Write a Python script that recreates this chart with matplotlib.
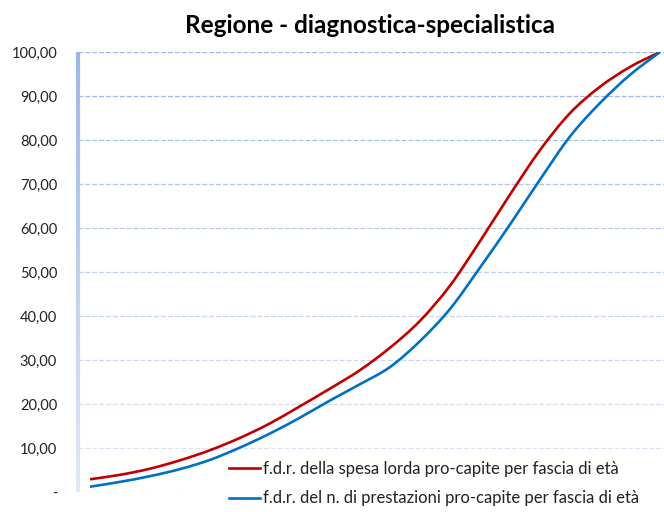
import numpy as np
import matplotlib
matplotlib.use("Agg")
import matplotlib.pyplot as plt
from matplotlib.collections import LineCollection
from matplotlib.colors import to_rgb
from matplotlib.path import Path
from matplotlib.patches import PathPatch
from matplotlib.lines import Line2D

# ---- data ----
age_bands = ["0-4", "5-9", "10-14", "15-19", "20-24", "25-29", "30-34", "35-39",
             "40-44", "45-49", "50-54", "55-59", "60-64", "65-69", "70-74",
             "75-79", "80-84", "85-89", "90-94", "95+"]
spesa = [2.9, 3.9, 5.3, 7.2, 9.5, 12.3, 15.6, 19.5, 23.5, 27.7,
         32.8, 38.9, 46.9, 57.0, 67.6, 77.7, 86.1, 92.1, 96.6, 100.0]
prestazioni = [1.2, 2.3, 3.6, 5.2, 7.3, 10.1, 13.3, 16.9, 20.8, 24.5,
               28.4, 34.3, 41.6, 51.0, 60.8, 71.0, 80.8, 88.4, 94.8, 100.0]
yticks = [0, 10, 20, 30, 40, 50, 60, 70, 80, 90, 100]
ytick_labels = ["-", "10,00", "20,00", "30,00", "40,00", "50,00", "60,00",
                "70,00", "80,00", "90,00", "100,00"]
label_spesa = "f.d.r. della spesa lorda pro-capite per fascia di età"
label_prest = "f.d.r. del n. di prestazioni pro-capite per fascia di età"
title = "Regione - diagnostica-specialistica"

plt.rcParams['font.family'] = ['Lato', 'DejaVu Sans']

W, H = 664, 512
fig = plt.figure(figsize=(W / 100, H / 100), dpi=100)
ax = fig.add_axes([78 / W, 20 / H, (W - 78) / W, 440 / H])

x = np.arange(len(age_bands))
ax.set_xlim(-0.4, len(age_bands) - 1 + 4 / 30)
ax.set_ylim(0, 100)

top_c = np.array(to_rgb("#9db6e4"))
bot_c = np.array(to_rgb("#e2e8f5"))

def grad(v):
    t = v / 100.0
    return tuple(bot_c * (1 - t) + top_c * t)

for v in yticks:
    xmax = 1.0 if v > 0 else (195 - 78) / (W - 78)
    ax.axhline(v, xmin=0, xmax=xmax, color=grad(v), lw=0.9,
               ls=(0, (4, 1.5)), zorder=1)

# gradient left axis line
ys = np.linspace(0, 100, 101)
segs = [[(-0.4, ys[i]), (-0.4, ys[i + 1])] for i in range(len(ys) - 1)]
cols = [grad((ys[i] + ys[i + 1]) / 2) for i in range(len(ys) - 1)]
lc = LineCollection(segs, colors=cols, linewidths=3.0, zorder=2,
                    clip_on=False, capstyle='butt')
ax.add_collection(lc)


def smooth_path(xs, ys):
    """Smoothed (Excel-style) curve through the data points as Bezier path."""
    pts = np.column_stack([xs, ys]).astype(float)
    n = len(pts)
    verts = [pts[0]]
    codes = [Path.MOVETO]
    for i in range(n - 1):
        p0 = pts[i - 1] if i > 0 else pts[i]
        p1 = pts[i]
        p2 = pts[i + 1]
        p3 = pts[i + 2] if i + 2 < n else pts[i + 1]
        c1 = p1 + (p2 - p0) / 6.0
        c2 = p2 - (p3 - p1) / 6.0
        verts += [c1, c2, p2]
        codes += [Path.CURVE4] * 3
    return Path(verts, codes)


red, blue = "#c00000", "#0070c0"
for series, col in [(spesa, red), (prestazioni, blue)]:
    patch = PathPatch(smooth_path(x, series), facecolor='none', edgecolor=col,
                      lw=1.9, transform=ax.transData, zorder=3,
                      capstyle='butt', joinstyle='round')
    ax.add_patch(patch)

for s in ax.spines.values():
    s.set_visible(False)
ax.set_xticks([])
ax.set_yticks(yticks)
ax.set_yticklabels(ytick_labels, fontsize=10.5, color="#222222")
ax.tick_params(axis='y', length=0, pad=15)

handles = [Line2D([], [], color=red, lw=1.9), Line2D([], [], color=blue, lw=1.9)]
leg = ax.legend(handles, [label_spesa, label_prest],
                loc='upper left', bbox_to_anchor=(224 / W, 1 - 456 / H),
                bbox_transform=fig.transFigure, frameon=True, fontsize=12,
                handlelength=1.85, handletextpad=0.2, labelspacing=0.8,
                borderpad=0.3, borderaxespad=0, fancybox=False)
leg.get_frame().set_facecolor("white")
leg.get_frame().set_edgecolor("none")
leg.get_frame().set_alpha(1)
leg.set_zorder(5)
for t in leg.get_texts():
    t.set_color("#222222")

fig.text(370 / W, 1 - 33 / H, title, ha='center', va='baseline',
         fontsize=17.5, fontweight='bold', color="#000000")

fig.savefig("out.png", dpi=100, facecolor="white")
